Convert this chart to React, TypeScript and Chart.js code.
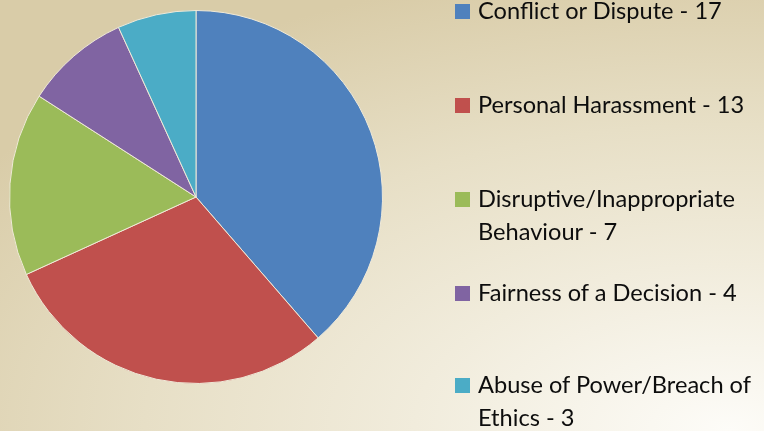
import React, { useEffect, useRef } from "react";
import { Chart, registerables } from "chart.js";

Chart.register(...registerables);

const categories = [
  "Conflict or Dispute",
  "Personal Harassment",
  "Disruptive/Inappropriate Behaviour",
  "Fairness of a Decision",
  "Abuse of Power/Breach of Ethics",
];
const counts = [17, 13, 7, 4, 3];
const colors = ["#4f81bd", "#c0504d", "#9bbb59", "#8064a2", "#4bacc6"];

export default function App() {
  const ref = useRef<HTMLCanvasElement | null>(null);

  useEffect(() => {
    document.body.style.margin = "0";
    const ctx = ref.current;
    if (!ctx) return;
    const chart = new Chart(ctx, {
      type: "pie",
      data: {
        labels: categories,
        datasets: [
          {
            data: counts,
            backgroundColor: colors,
            borderColor: "#efe9d8",
            borderWidth: 1,
          },
        ],
      },
      options: {
        animation: false,
        responsive: false,
        maintainAspectRatio: false,
        layout: { padding: 0 },
        plugins: {
          legend: { display: false },
          tooltip: { enabled: false },
        },
      },
    });
    return () => chart.destroy();
  }, []);

  return (
    <div
      style={{
        position: "fixed",
        left: 0,
        top: 0,
        width: 764,
        height: 431,
        overflow: "hidden",
        background:
          "radial-gradient(ellipse 900px 470px at 730px 430px, #fdfcf8 0%, #f1ecdc 35%, #e7dfc6 65%, #d9cca8 100%)",
      }}
    >
      <canvas
        ref={ref}
        width={374}
        height={374}
        style={{ position: "absolute", left: 9, top: 10, width: 374, height: 374 }}
      />
      {categories.map((c, i) => (
        <div
          key={c}
          style={{
            position: "absolute",
            left: 455,
            top: [-6, 88, 182, 276, 368][i],
            width: 309,
            display: "flex",
            alignItems: "flex-start",
            fontFamily: "Lato, 'Open Sans', sans-serif",
            fontSize: 23.6,
            lineHeight: "33px",
            color: "#0d0d0d",
          }}
        >
          <span
            style={{
              display: "inline-block",
              width: 15,
              height: 15,
              marginTop: 10,
              background: colors[i],
              flex: "0 0 auto",
            }}
          />
          <span style={{ marginLeft: 8, width: 286 }}>
            {c} - {counts[i]}
          </span>
        </div>
      ))}
    </div>
  );
}
